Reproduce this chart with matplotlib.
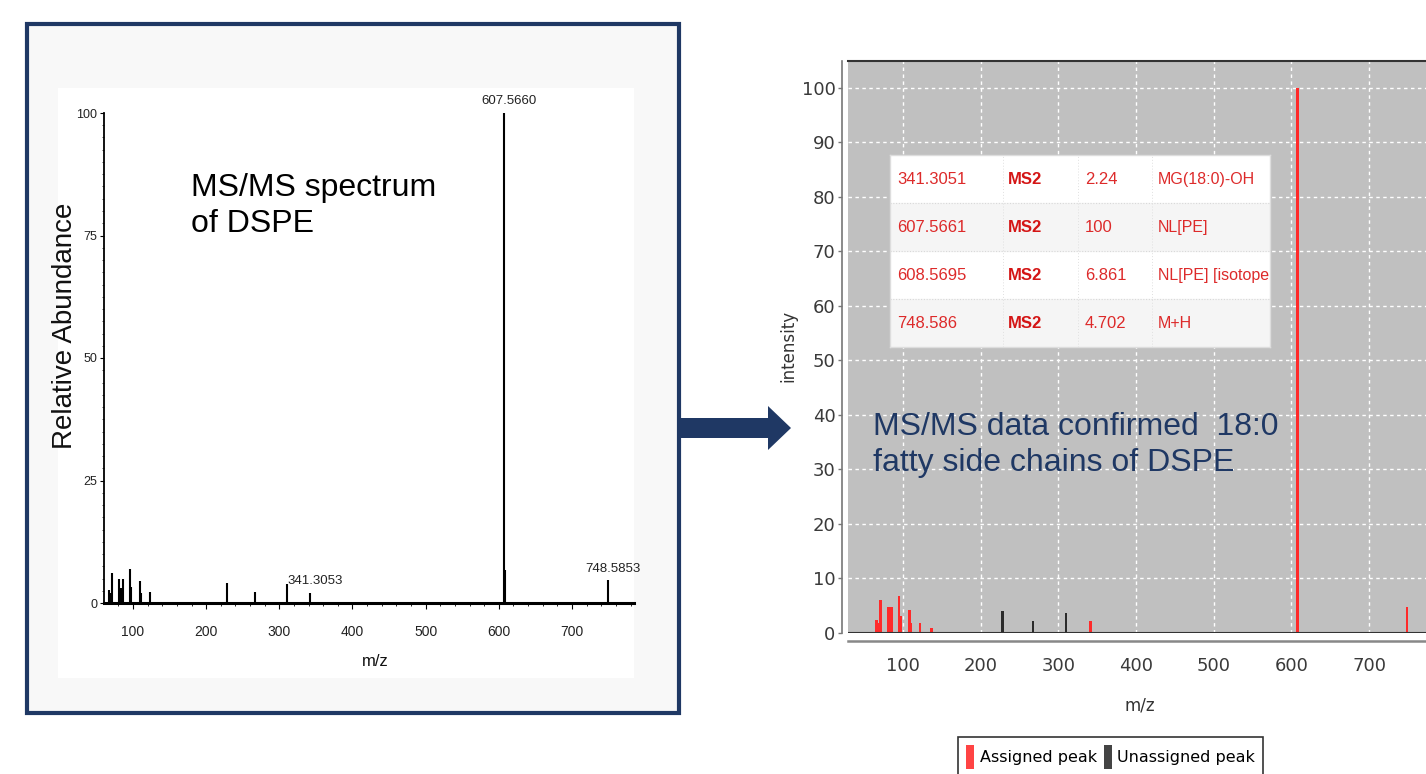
import matplotlib
matplotlib.use("Agg")
import matplotlib.pyplot as plt
from matplotlib.patches import Rectangle, Polygon, Patch
from matplotlib.ticker import MultipleLocator

# ---------------- data ----------------
# Left panel: MS/MS spectrum (m/z, relative abundance)
left_mz = [67.6, 69.0, 70.9, 81.3, 83.6, 85.9, 95.5, 97.7, 109.1, 111.4, 123.7,
           228.0, 267.0, 310.0, 341.3053, 607.5660, 608.5695, 748.5853]
left_int = [2.7, 2.0, 6.2, 4.9, 3.0, 4.9, 6.9, 3.3, 4.5, 2.0, 2.2,
            4.1, 2.2, 3.8, 2.1, 100.0, 6.8, 4.6]
left_labels_mz = [607.5660, 341.3053, 748.5853]
left_labels_int = [100.0, 2.1, 4.6]
left_labels_txt = ["607.5660", "341.3053", "748.5853"]

# Right panel: annotated spectrum
right_mz = [65.9, 67.3, 71.2, 80.8, 83.2, 85.6, 95.2, 97.1, 108.7, 110.6, 122.1,
            137.0, 228.0, 267.3, 310.1, 341.3051, 607.5661, 608.5695, 748.586]
right_int = [2.4, 1.8, 6.0, 4.8, 4.8, 4.8, 6.7, 3.1, 4.3, 1.8, 1.9,
             0.9, 4.1, 2.2, 3.7, 2.24, 100.0, 6.861, 4.702]
right_assigned = [True, True, True, True, True, True, True, True, True, True, True,
                  True, False, False, False, True, True, True, True]

# Table of assigned fragments
table_mz = ["341.3051", "607.5661", "608.5695", "748.586"]
table_level = ["MS2", "MS2", "MS2", "MS2"]
table_intensity = ["2.24", "100", "6.861", "4.702"]
table_annot = ["MG(18:0)-OH", "NL[PE]", "NL[PE] [isotope", "M+H"]

left_xticks = [100, 200, 300, 400, 500, 600, 700]
left_yticks = [0, 25, 50, 75, 100]
right_xticks = [100, 200, 300, 400, 500, 600, 700]
right_yticks = list(range(0, 101, 10))

# ---------------- figure ----------------
W, H = 1426, 774
fig = plt.figure(figsize=(W / 100, H / 100), dpi=100)
fig.patch.set_facecolor("white")

NAVY = "#1f3864"


def fx(x):
    return x / W


def fy(y):
    return 1 - y / H


# left framed box
fig.patches.append(Rectangle((fx(27), fy(713)), fx(679) - fx(27), fy(24) - fy(713),
                             transform=fig.transFigure, facecolor="#f8f8f8",
                             edgecolor=NAVY, linewidth=3.0, zorder=-2))
fig.patches.append(Rectangle((fx(58), fy(678)), fx(634) - fx(58), fy(88) - fy(678),
                             transform=fig.transFigure, facecolor="white",
                             edgecolor="none", zorder=-1))

# arrow
fig.patches.append(Polygon([(fx(679), fy(418)), (fx(768), fy(418)), (fx(768), fy(406)),
                            (fx(791), fy(428)), (fx(768), fy(450)), (fx(768), fy(438)),
                            (fx(679), fy(438))], closed=True, transform=fig.transFigure,
                           facecolor=NAVY, edgecolor="none", zorder=-1))

# ---------------- left spectrum ----------------
axl = fig.add_axes([fx(104), fy(603), fx(634) - fx(104), fy(113) - fy(603)])
axl.set_zorder(2)
axl.set_facecolor("none")
axl.vlines(left_mz, 0, left_int, colors="black", linewidth=1.5)
axl.set_xlim(60.4, 784.7)
axl.set_ylim(0, 100)
for s in ["top", "right"]:
    axl.spines[s].set_visible(False)
axl.spines["left"].set_linewidth(1.3)
axl.spines["bottom"].set_linewidth(2.2)
axl.set_xticks(left_xticks)
axl.set_yticks(left_yticks)
axl.xaxis.set_minor_locator(MultipleLocator(20))
axl.yaxis.set_minor_locator(MultipleLocator(2.5))
axl.tick_params(axis="x", which="major", length=4, width=0.8, pad=12,
                labelsize=10, labelcolor="#222222")
axl.tick_params(axis="x", which="minor", length=2.5, width=0.6)
axl.tick_params(axis="y", which="major", length=3, width=0.8, pad=2,
                labelsize=9, labelcolor="#222222")
axl.tick_params(axis="y", which="minor", length=1.5, width=0.5)
for tl in axl.get_xticklabels() + axl.get_yticklabels():
    tl.set_family("Liberation Sans")
for mz, it, txt in zip(left_labels_mz, left_labels_int, left_labels_txt):
    axl.annotate(txt, (mz, it), xytext=(4 if it < 50 else 3, 4), textcoords="offset points",
                 ha="center", va="bottom", fontsize=9.5, family="Liberation Sans",
                 color="#222222", annotation_clip=False)

fig.text(fx(65), fy(326), "Relative Abundance", rotation=90, ha="center", va="center",
         fontsize=20, family="Liberation Sans", color="#111111")
fig.text(fx(375), fy(662), "m/z", ha="center", va="center", fontsize=12,
         family="Liberation Sans", color="#111111")
fig.text(fx(191), fy(206), "MS/MS spectrum\nof DSPE", ha="left", va="center",
         fontsize=23, family="Liberation Sans", color="black", linespacing=1.22,
         zorder=5)

# ---------------- right spectrum ----------------
axr = fig.add_axes([fx(848), fy(633), 1 - fx(848), fy(60.7) - fy(633)])
axr.set_zorder(2)
axr.set_facecolor("#c0c0c0")
cols = ["#ff2a2a" if a else "#2b2b2b" for a in right_assigned]
axr.bar(right_mz, right_int, width=3.4, color=cols, linewidth=0, zorder=3)
axr.set_xlim(29.5, 773.1)
axr.set_ylim(0, 105)
axr.set_xticks(right_xticks)
axr.set_yticks(right_yticks)
axr.grid(True, color="white", linestyle=(0, (2.5, 2.5)), linewidth=1.0, zorder=1)
axr.set_axisbelow(True)
axr.spines["right"].set_visible(False)
axr.spines["top"].set_color("#333333")
axr.spines["top"].set_linewidth(1.5)
axr.spines["left"].set_position(("outward", 4))
axr.spines["left"].set_color("#777777")
axr.spines["left"].set_linewidth(1.2)
axr.spines["bottom"].set_position(("outward", 6))
axr.spines["bottom"].set_color("#888888")
axr.spines["bottom"].set_linewidth(1.8)
axr.axhline(0, color="#333333", linewidth=1.5, zorder=4)
axr.tick_params(axis="y", length=3, width=1, color="#777777", pad=2,
                labelsize=13, labelcolor="#3a3a3a")
axr.tick_params(axis="x", length=0, pad=11, labelsize=13, labelcolor="#3a3a3a")
fig.text(fx(788), fy(346), "intensity", rotation=90, ha="center", va="center",
         fontsize=12, color="#333333")
fig.text(fx(1140), fy(705), "m/z", ha="center", va="center", fontsize=12,
         color="#333333")

# table
axt = fig.add_axes([fx(890), fy(347), fx(1270) - fx(890), fy(155) - fy(347)])
axt.set_zorder(3)
axt.set_xlim(0, 1)
axt.set_ylim(4, 0)
axt.set_facecolor("white")
for s in axt.spines.values():
    s.set_color("#dddddd")
    s.set_linewidth(1.0)
axt.set_xticks([])
axt.set_yticks([])
for r in [1, 3]:
    axt.axhspan(r, r + 1, color="#f5f5f5", zorder=0)
for r in [1, 2, 3]:
    axt.axhline(r, color="#d8d8d8", linewidth=0.8, linestyle=(0, (1, 1.5)))
for cx in [0.297, 0.495, 0.689]:
    axt.axvline(cx, color="#e0e0e0", linewidth=0.7, linestyle=(0, (1, 2)))
RED = "#dd2a2a"
col_x = [0.018, 0.31, 0.513, 0.705]
for i in range(4):
    yy = i + 0.52
    axt.text(col_x[0], yy, table_mz[i], ha="left", va="center", fontsize=12,
             family="Liberation Sans", color=RED)
    axt.text(col_x[1], yy, table_level[i], ha="left", va="center", fontsize=12,
             family="Liberation Sans", fontweight="bold", color="#d41515")
    axt.text(col_x[2], yy, table_intensity[i], ha="left", va="center", fontsize=12,
             family="Liberation Sans", color=RED)
    axt.text(col_x[3], yy, table_annot[i], ha="left", va="center", fontsize=11.5,
             family="Liberation Sans", color=RED, clip_on=True)

fig.text(fx(873), fy(445), "MS/MS data confirmed  18:0\nfatty side chains of DSPE",
         ha="left", va="center", fontsize=23, family="Liberation Sans", color=NAVY,
         linespacing=1.22, zorder=5)

# legend
handles = [Patch(facecolor="#ff4444", edgecolor="none", label="Assigned peak"),
           Patch(facecolor="#444444", edgecolor="none", label="Unassigned peak")]
leg = fig.legend(handles=handles, loc="upper left", bbox_to_anchor=(fx(958), fy(737)),
                 ncol=2, frameon=True, fancybox=False, edgecolor="black",
                 fontsize=11.5, handlelength=0.5, handleheight=1.9,
                 handletextpad=0.35, columnspacing=0.45, borderpad=0.5,
                 borderaxespad=0)
leg.get_frame().set_linewidth(1.2)

fig.savefig("out.png", dpi=100, facecolor="white")
